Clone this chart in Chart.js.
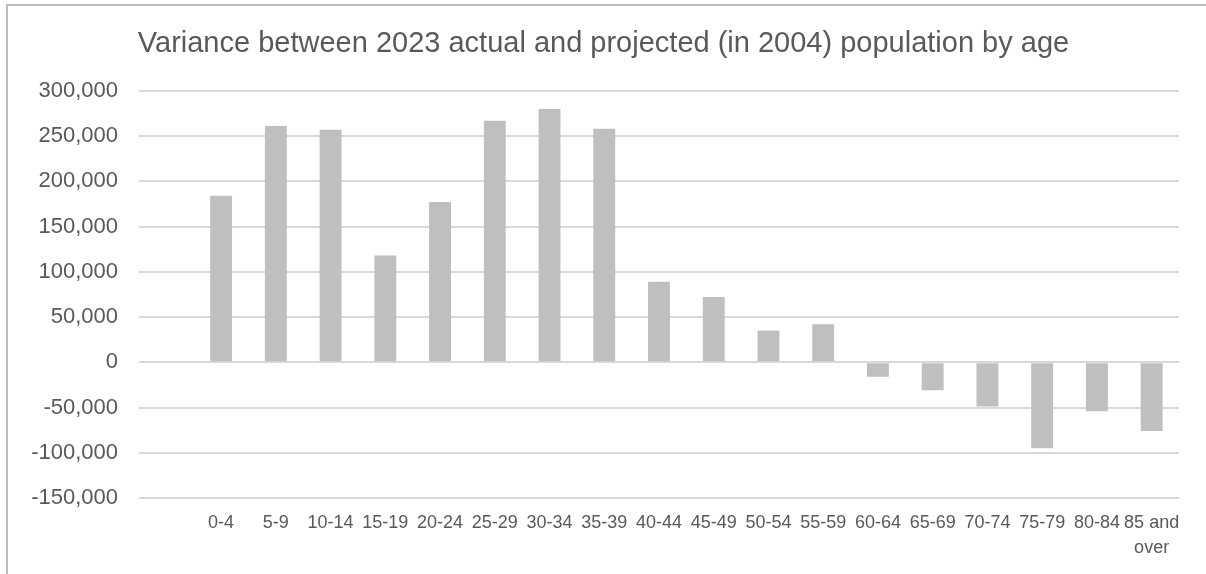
<!DOCTYPE html>
<html>
<head>
<meta charset="utf-8">
<title>Variance by age</title>
<script src="https://cdn.jsdelivr.net/npm/chart.js@4/dist/chart.umd.min.js"></script>
<style>
  html, body { margin: 0; padding: 0; background: #fff; }
  #wrap { position: relative; width: 1206px; height: 574px; }
  #frame {
    position: absolute; left: 6px; top: 4px; right: 0; bottom: 0;
    border-top: 2px solid #bdbdbd; border-left: 2px solid #bdbdbd;
    pointer-events: none;
  }
</style>
</head>
<body>
<div id="wrap">
  <canvas id="varianceChart" width="1206" height="574"></canvas>
  <div id="frame"></div>
</div>
<script>
// first slot is an empty category in the source sheet
const ageGroups = ['', '0-4', '5-9', '10-14', '15-19', '20-24', '25-29', '30-34', '35-39',
    '40-44', '45-49', '50-54', '55-59', '60-64', '65-69', '70-74', '75-79', '80-84', ['85 and', 'over']]
const variance = [null, 184000, 261000, 257000, 118000, 177000, 267000, 280000, 258000,
    89000, 72000, 35000, 42000, -16000, -31000, -49000, -95000, -54000, -76000]
const yMin = -150000
const yMax = 300000
const yStep = 50000
const titleText = 'Variance between 2023 actual and projected (in 2004) population by age'

const textColor = '#595959'

const chartElement = document.getElementById('varianceChart')
chartElement.chart = new Chart(chartElement, {
    type: 'bar',
    data: {
        labels: ageGroups,
        datasets: [{
            data: variance,
            backgroundColor: '#bfbfbf',
            borderWidth: 0,
            barPercentage: 0.4,
            categoryPercentage: 1,
        }],
    },
    options: {
        responsive: false,
        animation: false,
        // y labels get clipped to the scale box, so keep it wide enough
        layout: { padding: { left: 28, right: 27, top: 0, bottom: 0 } },
        plugins: {
            legend: { display: false },
            tooltip: { enabled: false },
            title: {
                display: true,
                text: titleText,
                color: textColor,
                font: { family: 'Liberation Sans, Arial, sans-serif', size: 29, weight: 'normal', lineHeight: 1.2 },
                padding: { top: 27, bottom: 29 },
            },
        },
        scales: {
            x: {
                grid: { display: false, drawTicks: false },
                border: { display: false },
                ticks: {
                    color: textColor,
                    font: { family: 'Liberation Sans, Arial, sans-serif', size: 18, lineHeight: 1.4 },
                    padding: 12,
                    maxRotation: 0,
                    autoSkip: false,
                },
                afterFit: (scale) => { scale.height = 76 },
            },
            y: {
                min: yMin,
                max: yMax,
                grid: { color: '#d9d9d9', lineWidth: 2, drawTicks: false },
                border: { display: false },
                ticks: {
                    stepSize: yStep,
                    color: textColor,
                    font: { family: 'Liberation Sans, Arial, sans-serif', size: 22 },
                    padding: 21,
                    callback: (v) => v.toLocaleString('en-US'),
                },
                afterFit: (scale) => { scale.width = 111 },
            },
        },
    },
})
</script>
</body>
</html>
